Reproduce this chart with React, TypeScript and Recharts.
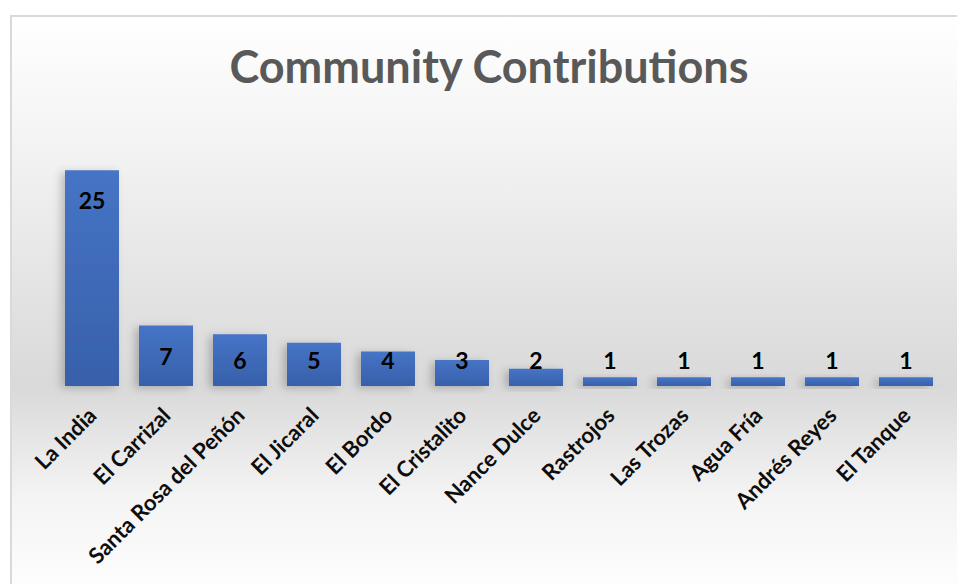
import React from 'react';
import { BarChart, Bar, XAxis, YAxis, LabelList } from 'recharts';

const communities = [
  'La India', 'El Carrizal', 'Santa Rosa del Peñón', 'El Jicaral', 'El Bordo',
  'El Cristalito', 'Nance Dulce', 'Rastrojos', 'Las Trozas', 'Agua Fría',
  'Andrés Reyes', 'El Tanque',
];
const contributions = [25, 7, 6, 5, 4, 3, 2, 1, 1, 1, 1, 1];
const title = 'Community Contributions';

const data = communities.map((name, i) => ({ name, value: contributions[i] }));

const FONT = 'Lato, "Open Sans", sans-serif';

const Tick = (props: any) => {
  const { x, y, payload } = props;
  const ax = x + 6;
  const ay = y + 23;
  return (
    <text
      x={ax}
      y={ay}
      textAnchor="end"
      transform={`rotate(-45, ${ax}, ${ay})`}
      fontFamily={FONT}
      fontWeight={700}
      fontSize={22}
      fill="#0d0d0d"
    >
      {payload.value}
    </text>
  );
};

const ValueLabel = (props: any) => {
  const { x, y, width, height, value } = props;
  const cy = Math.min(y + 30, y + height - 26);
  return (
    <text
      x={x + width / 2}
      y={cy}
      textAnchor="middle"
      dominantBaseline="central"
      fontFamily={FONT}
      fontWeight={700}
      fontSize={23}
      fill="#000"
    >
      {value}
    </text>
  );
};

export default function App() {
  return (
    <div style={{ position: 'fixed', left: 0, top: 0, width: 957, height: 584, overflow: 'hidden', background: '#fff' }}>
      <div
        style={{
          position: 'absolute',
          left: 10,
          top: 15,
          width: 970,
          height: 590,
          border: '2px solid #d9d9d9',
          boxSizing: 'border-box',
          background: 'linear-gradient(to bottom, #ffffff 0%, #f3f3f3 22%, #d9d9d9 63%, #f4f4f4 82%, #ffffff 100%)',
        }}
      />
      <div
        style={{
          position: 'absolute',
          left: 0,
          width: 978,
          top: 36,
          textAlign: 'center',
          fontFamily: FONT,
          fontWeight: 700,
          fontSize: 45,
          color: '#595959',
          lineHeight: '60px',
        }}
      >
        {title}
      </div>
      <div style={{ position: 'absolute', left: 0, top: 0 }}>
        <BarChart
          width={957}
          height={584}
          data={data}
          margin={{ top: 127, right: 14, bottom: 0, left: 55 }}
        >
          <defs>
            <linearGradient id="barGrad" x1="0" y1="0" x2="0" y2="1">
              <stop offset="0%" stopColor="#4674c6" />
              <stop offset="100%" stopColor="#3760aa" />
            </linearGradient>
            <filter id="shadow" x="-30%" y="-30%" width="160%" height="160%">
              <feDropShadow dx="-4" dy="2" stdDeviation="4" floodColor="#000" floodOpacity="0.22" />
            </filter>
          </defs>
          <XAxis
            dataKey="name"
            interval={0}
            axisLine={false}
            tickLine={false}
            height={198}
            tick={<Tick />}
          />
          <YAxis hide domain={[0, 30]} />
          <Bar
            dataKey="value"
            fill="url(#barGrad)"
            barSize={54}
            isAnimationActive={false}
            style={{ filter: 'url(#shadow)' }}
          >
            <LabelList dataKey="value" content={<ValueLabel />} />
          </Bar>
        </BarChart>
      </div>
    </div>
  );
}
